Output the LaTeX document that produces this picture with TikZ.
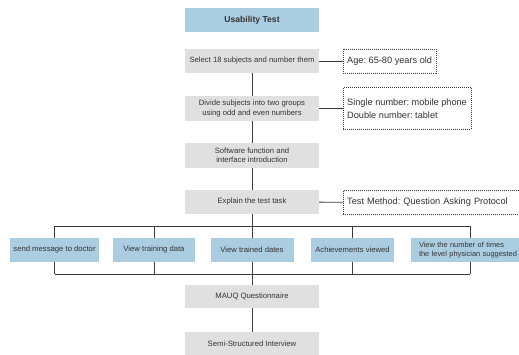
\documentclass[tikz,border=0pt]{standalone}
\usepackage{fontspec}
\setmainfont{Liberation Sans}
\frenchspacing
\definecolor{boxblue}{HTML}{ABCDE1}
\definecolor{boxgray}{HTML}{E0E0E0}
\definecolor{txtgray}{HTML}{333333}
\definecolor{linegray}{HTML}{3A3A3A}
\tikzset{
  stepbox/.style={fill=boxgray, minimum width=134pt, minimum height=24pt,
    align=center, text=txtgray, font=\fontsize{7.7}{9.2}\selectfont},
  titlebox/.style={stepbox, fill=boxblue, font=\fontsize{8.6}{10}\selectfont\bfseries},
  taskbox/.style={fill=boxblue, minimum height=24pt, align=center,
    text=txtgray, font=\fontsize{7.7}{9.2}\selectfont},
  notebox/.style={draw=linegray, dash pattern=on 1pt off 1pt, anchor=west,
    align=left, minimum height=24pt, inner xsep=4pt, text=txtgray,
    font=\fontsize{9.2}{13.5}\selectfont},
  link/.style={draw=linegray, line width=0.9pt}
}
\begin{document}
\begin{tikzpicture}[x=1pt, y=-1pt]
  \useasboundingbox (0,0) rectangle (519,354);
  \clip (0,0) rectangle (519,354);

  % Etapas principais
  \node[titlebox] (title)   at (252,20)    {Usability Test};
  \node[stepbox]  (select)  at (252,61)    {Select 18 subjects and number them};
  \node[stepbox, minimum height=25pt] (divide) at (252,108.5)
    {Divide subjects into two groups\\using odd and even numbers};
  \node[stepbox, minimum height=25pt] (intro)  at (252,155.5)
    {Software function and\\interface introduction};
  \node[stepbox]  (explain) at (252,202)   {Explain the test task};
  \node[stepbox, minimum height=23pt] (mauq) at (252,296.5) {MAUQ Questionnaire};
  \node[stepbox]  (semi)    at (252,344)   {Semi-Structured Interview};

  % Notas
  \node[notebox] (age)    at (343,61)    {Age: 65-80 years old};
  \node[notebox, minimum height=42pt] (phone) at (343,108.5)
    {Single number: mobile phone\\Double number: tablet};
  \node[notebox, text width=180pt] (method) at (343,202.5) {Test Method: Question Asking Protocol};

  % Tarefas
  \node[taskbox, minimum width=89pt] (t1) at (54.5,250) {send message to doctor};
  \node[taskbox, minimum width=82pt] (t2) at (154,250)  {View training data};
  \node[taskbox, minimum width=83pt] (t3) at (252,250)  {View trained dates};
  \node[taskbox, minimum width=83pt] (t4) at (352.5,250) {Achievements viewed};
  \node[taskbox, align=left, text width=102pt, inner xsep=8pt,
    font=\fontsize{7.4}{9}\selectfont] (t5) at (470,250)
    {View the number of times\\the level physician suggested};

  \coordinate (top) at (252,226);
  \coordinate (bot) at (252,274);

  % Ligacoes
  \draw[link] (select) -- (divide);
  \draw[link] (divide) -- (intro);
  \draw[link] (intro) -- (explain);
  \draw[link] (select) -- (age);
  \draw[link] (divide) -- (phone);
  \draw[link] (explain) -- (method);

  \draw[link] (explain) -- (top);
  \draw[link] (t1.north |- top) -- (t5.north |- top);
  \draw[link] (t1.south |- bot) -- (t5.south |- bot);
  \foreach \t in {t1,t2,t3,t4,t5} {
    \draw[link] (\t.north |- top) -- (\t.north);
    \draw[link] (\t.south) -- (\t.south |- bot);
  }
  \draw[link] (bot) -- (mauq);
  \draw[link] (mauq) -- (semi);
\end{tikzpicture}
\end{document}
